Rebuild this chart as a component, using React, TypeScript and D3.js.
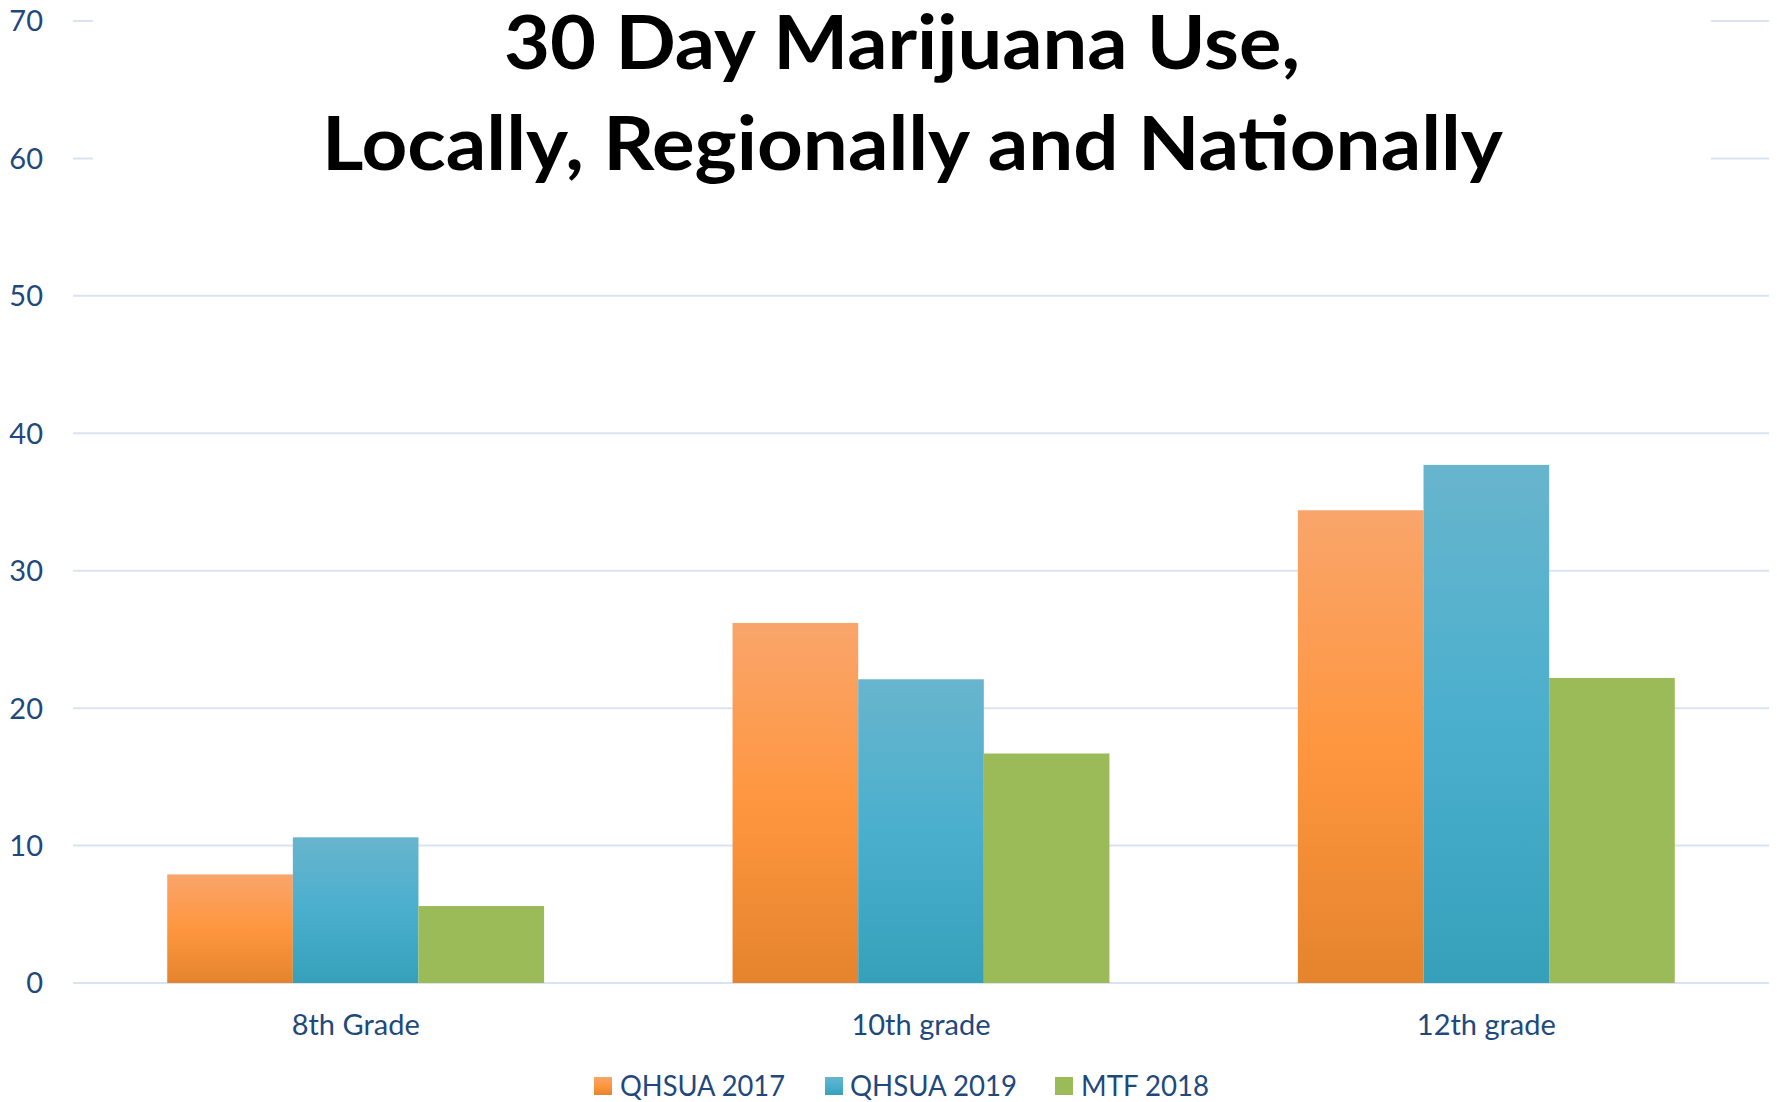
import React from "react";
import * as d3 from "d3";

const categories = ["8th Grade", "10th grade", "12th grade"];
const seriesNames = ["QHSUA 2017", "QHSUA 2019", "MTF 2018"];
const qhsua2017 = [7.9, 26.2, 34.4];
const qhsua2019 = [10.6, 22.1, 37.7];
const mtf2018 = [5.6, 16.7, 22.2];
const yTicks = [0, 10, 20, 30, 40, 50, 60, 70];
const titleLines = ["30 Day Marijuana Use,", "Locally, Regionally and Nationally"];

const seriesValues = [qhsua2017, qhsua2019, mtf2018];

const W = 1777;
const H = 1102;
const FONT = "Lato, 'Open Sans', sans-serif";
const TEXT_COLOR = "#1F497D";
const GRID = "#D9E3F1";

const gradients = [
  { id: "gOrange", stops: [["0%", "#F9A56B"], ["50%", "#FE963F"], ["100%", "#E5842D"]] },
  { id: "gBlue", stops: [["0%", "#68B5CD"], ["50%", "#4AAFCD"], ["100%", "#36A0BA"]] },
  { id: "gGreen", stops: [["0%", "#9BBB59"], ["100%", "#9BBB59"]] },
];
const legendFill = ["url(#gOrange)", "url(#gBlue)", "url(#gGreen)"];

export default function App() {
  const left = 73;
  const right = 1769;
  const y = d3.scaleLinear().domain([0, 70]).range([983, 21]);
  const x0 = d3
    .scaleBand<string>()
    .domain(categories)
    .range([left, right])
    .paddingInner(1 / 3)
    .paddingOuter(1 / 6);
  const x1 = d3
    .scaleBand<string>()
    .domain(seriesNames)
    .range([0, x0.bandwidth()])
    .padding(0);

  const legendItems = [
    { sq: 594, tx: 620, w: 165 },
    { sq: 825, tx: 850, w: 167 },
    { sq: 1055, tx: 1081, w: 128 },
  ];

  return (
    <svg
      width={W}
      height={H}
      style={{ position: "absolute", left: 0, top: 0, background: "#fff" }}
    >
      <defs>
        {gradients.map((g) => (
          <linearGradient key={g.id} id={g.id} x1="0" y1="0" x2="0" y2="1">
            {g.stops.map(([o, c]) => (
              <stop key={o} offset={o} stopColor={c} />
            ))}
          </linearGradient>
        ))}
      </defs>
      <rect width={W} height={H} fill="#fff" />
      {yTicks.map((t) => (
        <line
          key={t}
          x1={left}
          x2={right}
          y1={y(t)}
          y2={y(t)}
          stroke={GRID}
          strokeWidth={2}
        />
      ))}
      {yTicks.map((t) => (
        <text
          key={"l" + t}
          x={43}
          y={y(t)}
          dy="0.36em"
          textAnchor="end"
          fontFamily={FONT}
          fontSize={29}
          fill={TEXT_COLOR}
        >
          {t}
        </text>
      ))}
      {categories.map((c, ci) => (
        <g key={c} transform={`translate(${x0(c)},0)`}>
          {seriesNames.map((s, si) => {
            const v = seriesValues[si][ci];
            return (
              <rect
                key={s}
                x={x1(s)}
                y={y(v)}
                width={x1.bandwidth()}
                height={y(0) - y(v)}
                fill={legendFill[si]}
              />
            );
          })}
        </g>
      ))}
      {categories.map((c) => (
        <text
          key={"x" + c}
          x={(x0(c) as number) + x0.bandwidth() / 2}
          y={1035}
          textAnchor="middle"
          fontFamily={FONT}
          fontSize={29}
          fill={TEXT_COLOR}
        >
          {c}
        </text>
      ))}
      <rect x={93} y={0} width={1618} height={200} fill="#fff" />
      <text
        x={504}
        y={69}
        fontFamily={FONT}
        fontWeight={700}
        fontSize={74}
        fill="#000"
        textLength={796}
        lengthAdjust="spacingAndGlyphs"
      >
        {titleLines[0]}
      </text>
      <text
        x={322}
        y={170}
        fontFamily={FONT}
        fontWeight={700}
        fontSize={74}
        fill="#000"
        textLength={1181}
        lengthAdjust="spacingAndGlyphs"
      >
        {titleLines[1]}
      </text>
      {seriesNames.map((s, i) => (
        <g key={"lg" + s}>
          <rect x={legendItems[i].sq} y={1077} width={18} height={18} fill={legendFill[i]} />
          <text
            x={legendItems[i].tx}
            y={1096}
            fontFamily={FONT}
            fontSize={29}
            fill={TEXT_COLOR}
            textLength={legendItems[i].w}
            lengthAdjust="spacingAndGlyphs"
          >
            {s}
          </text>
        </g>
      ))}
    </svg>
  );
}
